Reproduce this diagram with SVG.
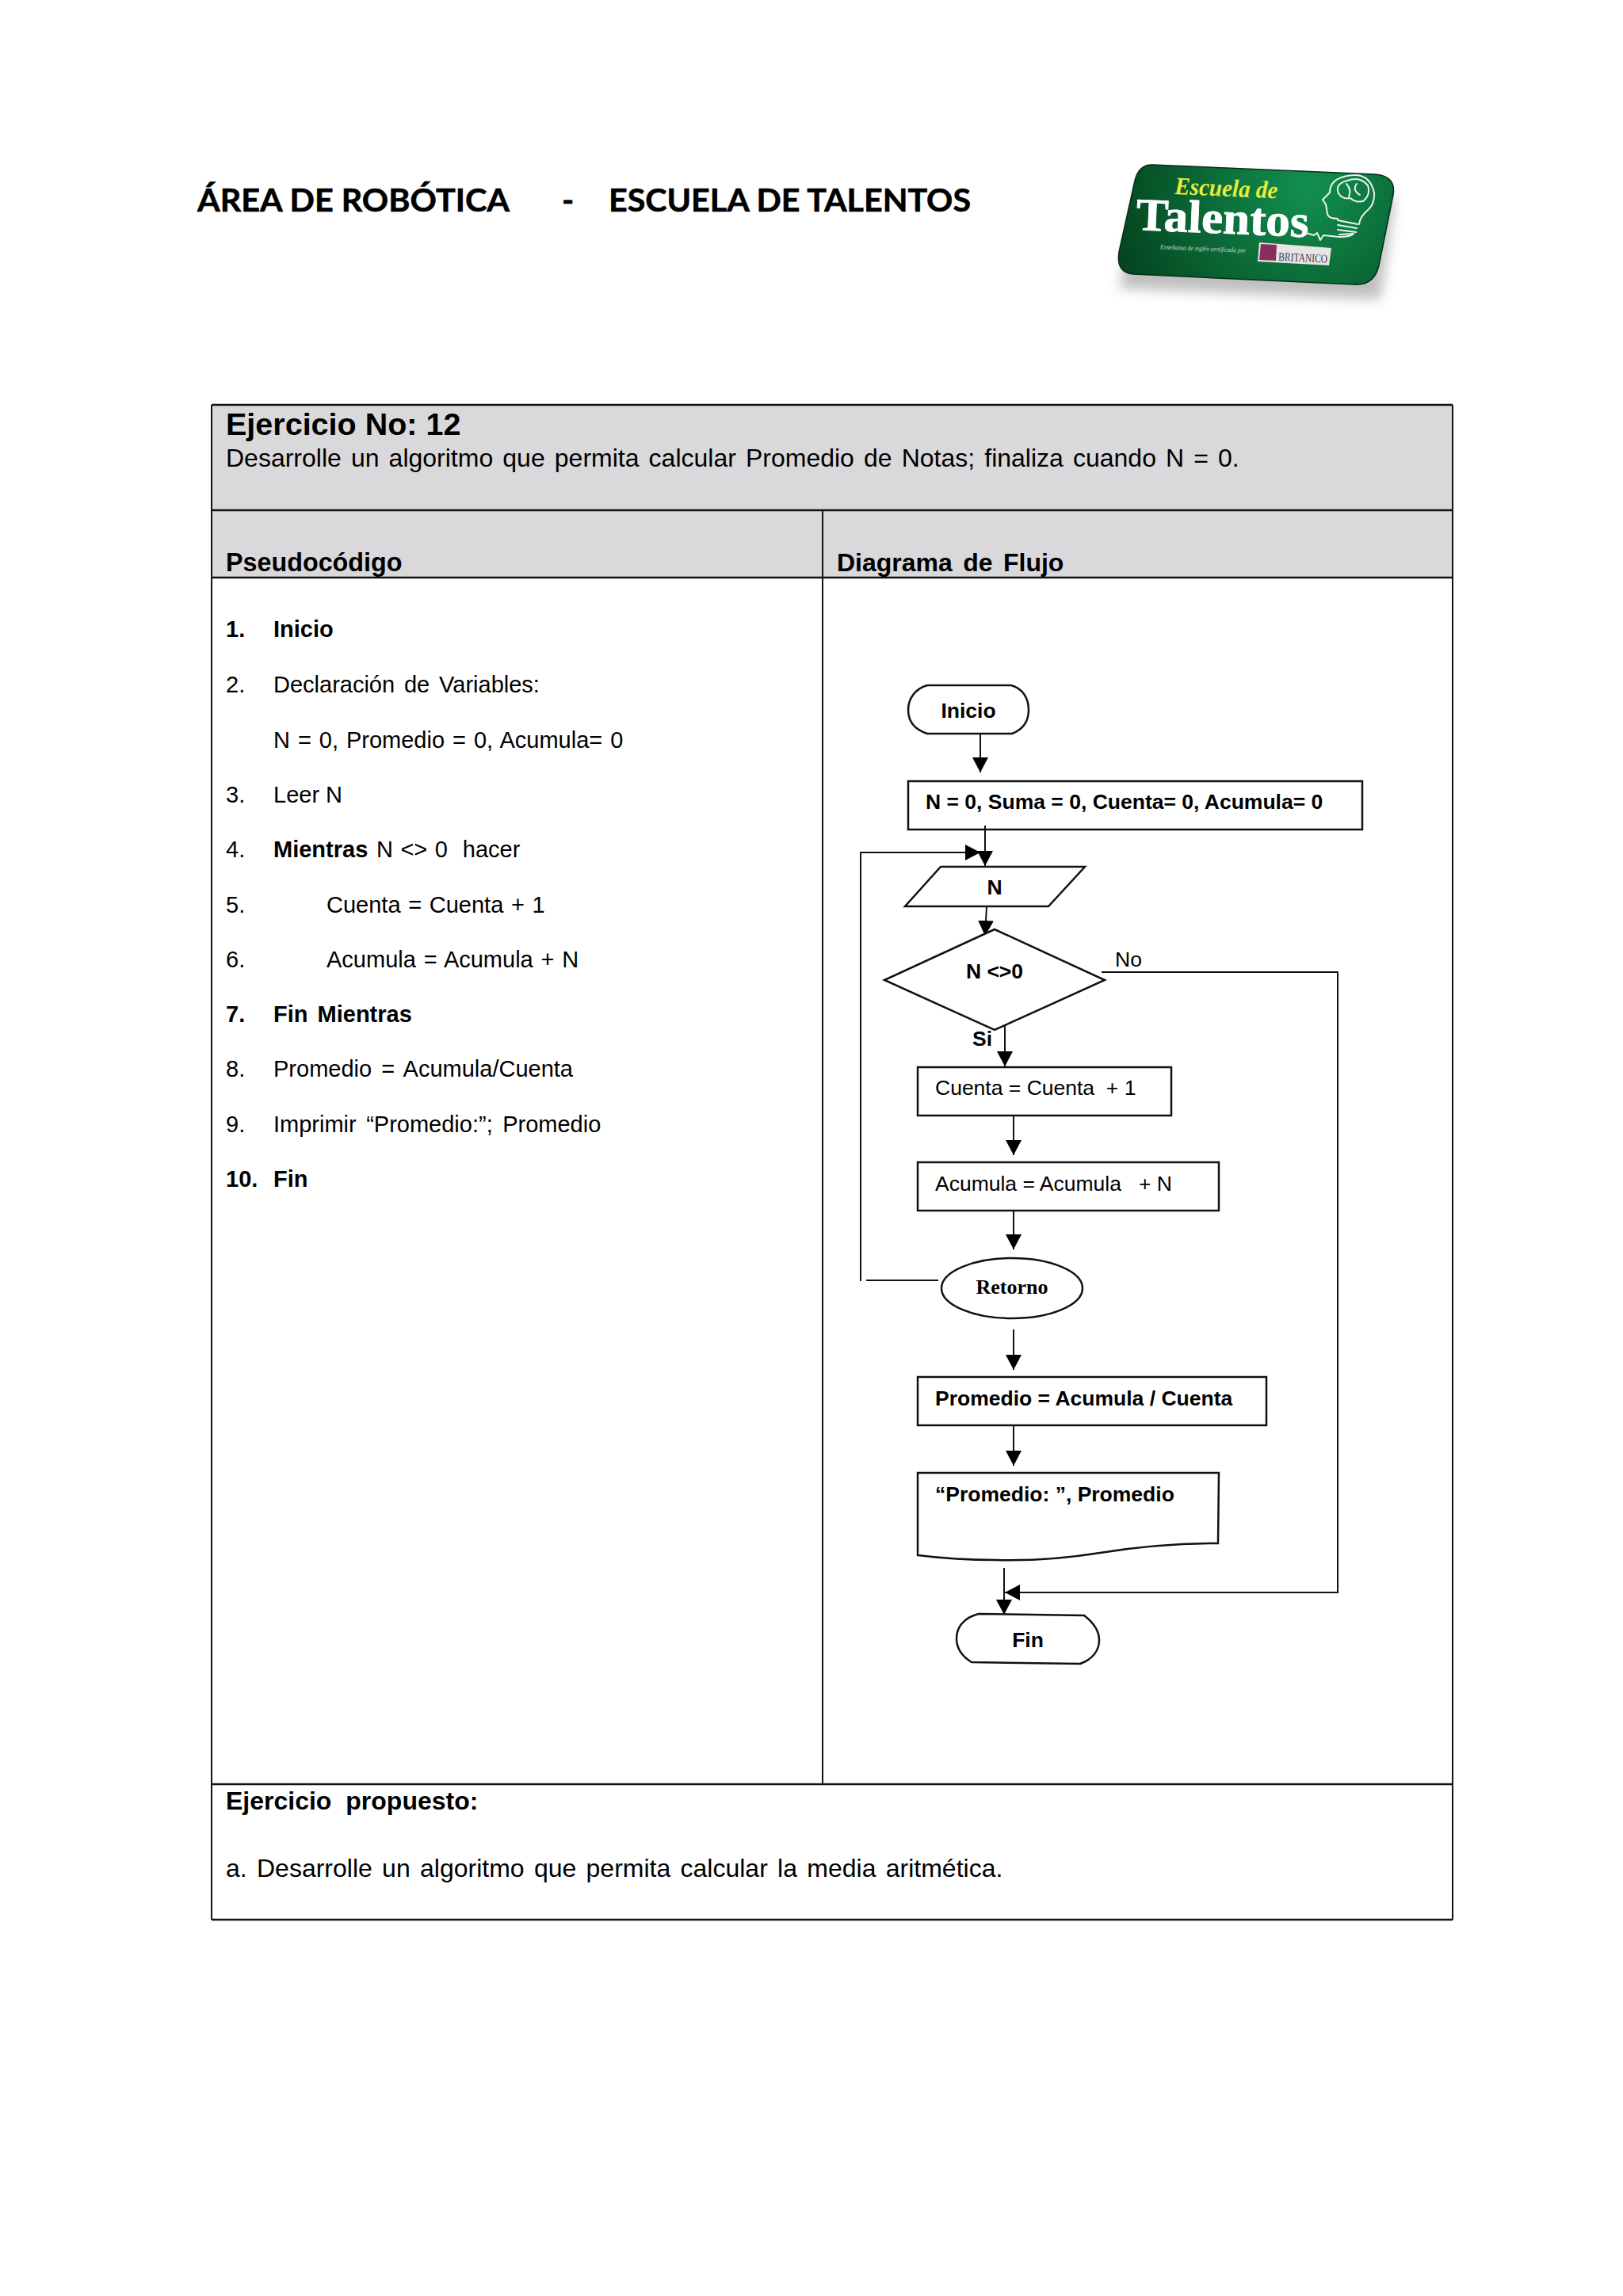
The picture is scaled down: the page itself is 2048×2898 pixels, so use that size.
<svg xmlns="http://www.w3.org/2000/svg" width="2048" height="2898" viewBox="0 0 2048 2898">
<defs>
<marker id="ah" markerUnits="userSpaceOnUse" markerWidth="19" markerHeight="20" refX="19" refY="10" orient="auto"><path d="M0 0L19 10L0 20Z" fill="#000"/></marker>
<radialGradient id="green" gradientUnits="userSpaceOnUse" cx="1650" cy="235" r="250"><stop offset="0" stop-color="#12904f"/><stop offset=".5" stop-color="#0b6b38"/><stop offset="1" stop-color="#05451f"/></radialGradient>
<filter id="blur" x="-20%" y="-30%" width="140%" height="160%"><feGaussianBlur stdDeviation="8"/></filter>
<style>
text{font-family:"Liberation Sans",Arial,sans-serif;fill:#000;white-space:pre}
.b{font-weight:700}
.fc{font-size:26.5px}
.li{font-size:29px}
.h{font-size:32px}
.ti{font-family:Lato,sans-serif;font-size:41px;font-weight:700;stroke:#000;stroke-width:.6}
.lg{font-family:"Liberation Serif",serif}
.tl{fill:none;stroke:#111;stroke-width:2.5}
.tv{fill:none;stroke:#111;stroke-width:2}
.n{fill:none;stroke:#111;stroke-width:2.5}
.c{fill:none;stroke:#111;stroke-width:2}
.a{fill:none;stroke:#111;stroke-width:2;marker-end:url(#ah)}
</style>
</defs>
<rect width="2048" height="2898" fill="#fff"/>
<g id="header">
<text x="249" y="267" class="ti" textLength="394" lengthAdjust="spacingAndGlyphs">ÁREA DE ROBÓTICA</text>
<text x="709" y="267" class="ti">-</text>
<text x="768" y="267" class="ti" textLength="457" lengthAdjust="spacingAndGlyphs">ESCUELA DE TALENTOS</text>
</g>
<g id="logo">
<path d="M1440 236L1760 250L1742 378L1412 364Z" fill="#000" opacity=".25" filter="url(#blur)"/>
<path d="M1455 208L1735 220Q1762 222 1758 246L1740 335Q1734 361 1708 359L1430 346Q1408 344 1412 318L1432 228Q1437 207 1455 208Z" fill="url(#green)" stroke="#052f17" stroke-width="1.5"/>
<g transform="rotate(2.4 1482 245)">
<text x="1482" y="245" font-size="31" class="b lg" textLength="130" lengthAdjust="spacingAndGlyphs" style="font-style:italic;fill:#e8ec3a">Escuela de</text>
<text x="1435" y="292" font-size="58" class="b lg" textLength="218" lengthAdjust="spacingAndGlyphs" style="fill:#fff;stroke:#fff;stroke-width:.8">Talentos</text>
<text x="1467" y="315" font-size="8.5" class="lg" textLength="108" lengthAdjust="spacingAndGlyphs" style="font-style:italic;fill:#c9dccf">Enseñanza de inglés certificada por</text>
</g>
<path d="M1589 306L1680 313L1677 335L1587 330Z" fill="#e9e4e6"/>
<path d="M1591 308L1611 309L1610 329L1589 328Z" fill="#8a2f5c"/>
<text transform="translate(1613 329) rotate(2.4)" font-size="15" class="lg" textLength="62" lengthAdjust="spacingAndGlyphs" style="fill:#3a3a4a">BRITANICO</text>
<g fill="none" stroke="#e8f3ea" stroke-width="2" stroke-linecap="round" stroke-linejoin="round">
<path d="M1648 294L1658 297L1662 294L1666 303L1670 297L1690 299Q1704 299 1708 295"/>
<path d="M1688 276Q1676 276 1675 270L1673 258L1669 252L1678 243Q1678 226 1700 222Q1728 216 1734 243Q1735 258 1725 266Q1716 274 1715 283"/>
<path d="M1689 244Q1684 232 1700 228Q1716 222 1726 234Q1730 246 1720 254Q1710 256 1704 250Q1694 252 1689 244Z"/>
<path d="M1699 232Q1706 240 1702 248M1712 232Q1706 240 1716 246"/>
<path d="M1688 278L1713 283M1688 284L1712 288M1688 290L1711 293M1690 296L1708 295"/>
</g>
</g>
<g id="table">
<rect x="267" y="511" width="1566" height="218" fill="#d9d8da"/>
<path class="tl" d="M267 511H1833M267 644H1833M267 729H1833M267 2252H1833M267 2423H1833"/>
<path class="tv" d="M267 511V2423M1833 511V2423M1038 644V2252"/>
<text x="285" y="549" font-size="39.5" class="b">Ejercicio No: 12</text>
<text x="285" y="589" class="h" style="word-spacing:3.2px">Desarrolle un algoritmo que permita calcular Promedio de Notas; finaliza cuando N = 0.</text>
<text x="285" y="721" font-size="32.3" class="b">Pseudocódigo</text>
<text x="1056" y="721" class="h b" style="word-spacing:4.5px">Diagrama de Flujo</text>
<text x="285" y="2284" class="h b" style="word-spacing:9px">Ejercicio propuesto:</text>
<text x="285" y="2369" class="h" style="word-spacing:3.4px">a. Desarrolle un algoritmo que permita calcular la media aritmética.</text>
</g>
<g id="pseudocodigo">
<text x="285" y="804" class="li b">1.</text><text x="345" y="804" class="li b">Inicio</text>
<text x="285" y="874" class="li">2.</text><text x="345" y="874" class="li" style="word-spacing:3.8px">Declaración de Variables:</text>
<text x="345" y="944" class="li" style="word-spacing:1.9px">N = 0, Promedio = 0, Acumula= 0</text>
<text x="285" y="1013" class="li">3.</text><text x="345" y="1013" class="li">Leer N</text>
<text x="285" y="1082" class="li">4.</text><text x="345" y="1082" class="li b">Mientras</text><text x="475" y="1082" class="li" style="word-spacing:1.4px">N &lt;&gt; 0  hacer</text>
<text x="285" y="1152" class="li">5.</text><text x="412" y="1152" class="li" style="word-spacing:1.6px">Cuenta = Cuenta + 1</text>
<text x="285" y="1221" class="li">6.</text><text x="412" y="1221" class="li" style="word-spacing:1.8px">Acumula = Acumula + N</text>
<text x="285" y="1290" class="li b">7.</text><text x="345" y="1290" class="li b" style="word-spacing:4px">Fin Mientras</text>
<text x="285" y="1359" class="li">8.</text><text x="345" y="1359" class="li" style="word-spacing:4px">Promedio = Acumula/Cuenta</text>
<text x="285" y="1429" class="li">9.</text><text x="345" y="1429" class="li" style="word-spacing:4.4px">Imprimir “Promedio:”; Promedio</text>
<text x="285" y="1498" class="li b">10.</text><text x="345" y="1498" class="li b">Fin</text>
</g>
<g id="connectors">
<path class="a" d="M1237 926V975"/>
<path class="a" d="M1243 1042V1093"/>
<path class="a" d="M1086 1617V1076H1237"/>
<path class="c" d="M1093 1616H1184"/>
<path class="a" d="M1245 1144L1243 1181"/>
<path class="a" d="M1390 1227H1688V2010H1268"/>
<path class="a" d="M1268 1295V1346"/>
<path class="a" d="M1279 1408V1458"/>
<path class="a" d="M1279 1528V1577"/>
<path class="a" d="M1279 1678V1729"/>
<path class="a" d="M1279 1799V1850"/>
<path class="a" d="M1267 1979V2038"/>
</g>
<g id="n-inicio"><path class="n" d="M1170 865H1276C1291 869 1298 882 1298 896C1298 911 1290 921 1277 926H1170C1155 921 1146 911 1146 896C1146 882 1155 869 1170 865Z"/><text x="1222" y="906" text-anchor="middle" class="fc b">Inicio</text></g>
<g id="n-init"><rect class="n" x="1146" y="986" width="573" height="61"/><text x="1168" y="1021" class="fc b">N = 0, Suma = 0, Cuenta= 0, Acumula= 0</text></g>
<g id="n-leer"><path class="n" d="M1187 1094H1369L1323 1144H1142Z"/><text x="1255" y="1129" text-anchor="middle" class="fc b">N</text></g>
<g id="n-decision"><path class="n" style="fill:#fff" d="M1255 1173L1394 1237L1255 1300L1116 1237Z"/><text x="1255" y="1235" text-anchor="middle" class="fc b">N &lt;&gt;0</text></g>
<g id="l-no"><text x="1407" y="1220" class="fc">No</text></g>
<g id="l-si"><text x="1227" y="1320" class="fc b">Si</text></g>
<g id="n-cuenta"><rect class="n" x="1158" y="1347" width="320" height="61"/><text x="1180" y="1382" class="fc">Cuenta = Cuenta  + 1</text></g>
<g id="n-acumula"><rect class="n" x="1158" y="1467" width="380" height="61"/><text x="1180" y="1503" class="fc">Acumula = Acumula   + N</text></g>
<g id="n-retorno"><ellipse class="n" cx="1277" cy="1626" rx="89" ry="38"/><text x="1277" y="1633" text-anchor="middle" font-size="26" class="b" style="font-family:'Liberation Serif',serif">Retorno</text></g>
<g id="n-promedio"><rect class="n" x="1158" y="1738" width="440" height="61"/><text x="1180" y="1774" class="fc b">Promedio = Acumula / Cuenta</text></g>
<g id="n-print"><path class="n" d="M1158 1859H1538L1537 1948C1488 1948 1438 1952 1388 1960C1338 1968 1288 1970 1256 1969C1220 1969 1190 1967 1158 1963Z"/><text x="1180" y="1895" class="fc b">“Promedio: ”, Promedio</text></g>
<g id="n-fin"><path class="n" d="M1235 2037L1368 2039C1381 2049 1387 2060 1387 2070C1387 2083 1379 2094 1363 2100L1226 2098C1213 2090 1207 2080 1207 2068C1207 2055 1215 2042 1235 2037Z"/><text x="1297" y="2079" text-anchor="middle" class="fc b">Fin</text></g>
</svg>
